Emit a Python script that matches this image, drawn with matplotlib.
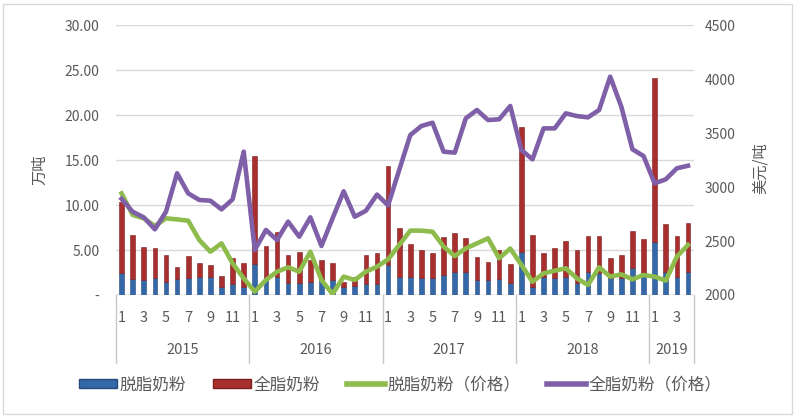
import matplotlib
matplotlib.use("Agg")
import matplotlib.pyplot as plt
import numpy as np
from matplotlib.patches import Patch, Rectangle
from matplotlib.lines import Line2D
from matplotlib.ticker import FixedLocator, FuncFormatter
from matplotlib.transforms import blended_transform_factory

plt.rcParams['font.family'] = ['Noto Sans CJK SC', 'DejaVu Sans']

years = ['2015', '2016', '2017', '2018', '2019']
months_per_year = [12, 12, 12, 12, 4]

# 万吨 — stacked bars
skim_vol = [2.4, 1.8, 1.7, 1.9, 1.5, 1.8, 1.9, 2.0, 2.0, 0.9, 1.2, 0.9,
            3.4, 1.8, 2.0, 1.3, 1.3, 1.5, 1.7, 1.7, 0.9, 1.0, 1.2, 1.2,
            3.3, 2.0, 2.0, 1.9, 1.9, 2.2, 2.6, 2.6, 1.7, 1.7, 1.8, 1.3,
            4.8, 0.9, 2.0, 1.9, 2.0, 1.3, 2.6, 2.4, 1.9, 1.9, 3.0, 2.2,
            5.9, 2.6, 2.0, 2.6]
total_vol = [10.3, 6.7, 5.3, 5.2, 4.4, 3.1, 4.3, 3.6, 3.3, 2.1, 4.1, 3.6,
             15.5, 5.4, 7.0, 4.4, 4.8, 3.9, 3.9, 3.6, 1.5, 2.0, 4.4, 4.7,
             14.3, 7.5, 5.7, 5.0, 4.7, 6.5, 6.9, 6.3, 4.2, 3.7, 5.0, 3.4,
             18.7, 6.7, 4.7, 5.2, 6.0, 5.0, 6.6, 6.6, 4.1, 4.4, 7.1, 6.2,
             24.1, 7.9, 6.6, 8.0]
whole_vol = [t - s for t, s in zip(total_vol, skim_vol)]

# 美元/吨 — price lines
skim_price = [2941, 2741, 2710, 2639, 2710, 2700, 2688, 2509, 2401, 2478, 2293, 2154,
              2031, 2139, 2216, 2256, 2216, 2401, 2139, 2009, 2170, 2139, 2216, 2262,
              2330, 2463, 2596, 2596, 2586, 2448, 2361, 2432, 2478, 2525, 2340, 2430,
              2280, 2123, 2201, 2225, 2247, 2154, 2093, 2256, 2170, 2191, 2145, 2185,
              2170, 2133, 2355, 2463]
whole_price = [2890, 2771, 2719, 2608, 2771, 3127, 2941, 2880, 2873, 2793, 2886, 3327,
               2417, 2602, 2509, 2679, 2540, 2719, 2454, 2710, 2960, 2725, 2780, 2930,
               2830, 3157, 3481, 3565, 3595, 3327, 3318, 3636, 3713, 3620, 3627, 3750,
               3343, 3256, 3543, 3543, 3682, 3657, 3645, 3713, 4022, 3744, 3349, 3287,
               3034, 3071, 3173, 3197]

left_ticks = [0, 5, 10, 15, 20, 25, 30]
right_ticks = [2000, 2500, 3000, 3500, 4000, 4500]
legend_labels = ['脱脂奶粉', '全脂奶粉', '脱脂奶粉（价格）', '全脂奶粉（价格）']

BLUE = '#3568A9'
RED = '#A92F2F'
GREEN = '#8DBB4C'
PURPLE = '#7E5FA8'
TXT = '#595959'
GRID = '#D9D9D9'

W, H = 796, 417
fig = plt.figure(figsize=(W / 100, H / 100), dpi=100)
fig.patch.set_facecolor('white')
ax = fig.add_axes([116 / W, 1 - 295 / H, 577.5 / W, 270 / H])

n = len(total_vol)
x = np.arange(n)
ax.bar(x, skim_vol, width=0.42, color=BLUE, edgecolor='#24497A', linewidth=0.4, zorder=2)
ax.bar(x, whole_vol, bottom=skim_vol, width=0.42, color=RED, edgecolor='#7A1E1E',
       linewidth=0.4, zorder=2)
ax.set_xlim(-0.5, n - 0.5)
ax.set_ylim(0, 30)
ax.yaxis.set_major_locator(FixedLocator(left_ticks))
ax.yaxis.set_major_formatter(FuncFormatter(lambda v, p: '-' if v == 0 else f'{v:.2f}'))
ax.tick_params(axis='y', length=0, pad=12, labelsize=10, labelcolor=TXT)
ax.set_xticks([])
ax.grid(axis='y', color=GRID, linewidth=1, zorder=0)
for s in ax.spines.values():
    s.set_visible(False)
ax.axhline(0, color='#BFBFBF', linewidth=1, zorder=1)

ax2 = ax.twinx()
ax2.plot(x, skim_price, color=GREEN, linewidth=3.3, solid_joinstyle='round', zorder=3)
ax2.plot(x, whole_price, color=PURPLE, linewidth=3.3, solid_joinstyle='round', zorder=4)
ax2.set_ylim(2000, 4500)
ax2.yaxis.set_major_locator(FixedLocator(right_ticks))
ax2.tick_params(axis='y', length=0, pad=8, labelsize=10, labelcolor=TXT)
for s in ax2.spines.values():
    s.set_visible(False)

# multi-level x axis
trans = blended_transform_factory(ax.transData, ax.transAxes)
start = 0
bounds = [-0.5]
for yr, cnt in zip(years, months_per_year):
    for m in range(1, cnt + 1, 2):
        ax.text(start + m - 1, -0.085, str(m), transform=trans, ha='center', va='center',
                fontsize=10.5, color=TXT, clip_on=False)
    ax.text(start + (cnt - 1) / 2, -0.205, yr, transform=trans, ha='center', va='center',
            fontsize=10.5, color=TXT, clip_on=False)
    start += cnt
    bounds.append(start - 0.5)
for b in bounds:
    ax.plot([b, b], [0, -0.25], transform=trans, color='#C8C8C8', linewidth=1, clip_on=False)

fig.text(40 / W, 1 - 170 / H, '万吨', rotation=90, ha='center', va='center', fontsize=11, color=TXT)
fig.text(760 / W, 1 - 168 / H, '美元/吨', rotation=90, ha='center', va='center', fontsize=11, color=TXT)

handles = [Patch(facecolor=BLUE, edgecolor='#24497A'),
           Patch(facecolor=RED, edgecolor='#7A1E1E'),
           Line2D([], [], color=GREEN, linewidth=4),
           Line2D([], [], color=PURPLE, linewidth=4)]
leg = fig.legend(handles, legend_labels, loc='center', bbox_to_anchor=(400 / W, 1 - 385 / H),
                 ncol=4, frameon=False, fontsize=12, handlelength=2.3, handleheight=0.45,
                 handletextpad=0.15, columnspacing=1.6, labelcolor=TXT)

fig.patches.append(Rectangle((3 / W, 3 / H), 1 - 7 / W, 1 - 7 / H, transform=fig.transFigure,
                             fill=False, edgecolor='#D9D9D9', linewidth=1))

fig.savefig('out.png', dpi=100)
